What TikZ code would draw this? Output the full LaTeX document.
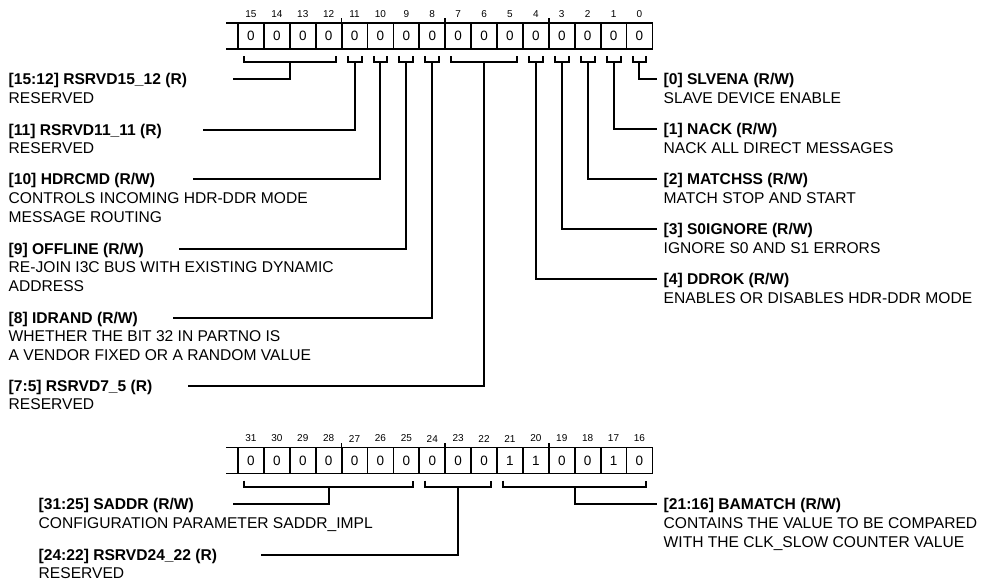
\documentclass[tikz,border=0pt]{standalone}
\usepackage{fontspec}
\setmainfont{Liberation Sans}
\usetikzlibrary{calc}
\tikzset{
  cell/.style={draw, line width=1.8pt, minimum width=25.9pt, minimum height=26pt, inner sep=0pt, outer sep=0pt, font=\fontsize{13.5}{16}\selectfont},
  bitnum/.style={inner sep=0pt, font=\fontsize{10}{12}\selectfont},
  conn/.style={line width=2pt},
  regline/.style={line width=1.8pt},
  field/.style={anchor=base west, inner sep=0pt, font=\fontsize{15.6}{18.7}\selectfont},
  ticker/.style={line width=1.5pt},
}
\newcommand{\fldA}[2]{\begin{tabular}[t]{@{}l@{}}\textbf{#1}\\#2\end{tabular}}
\newcommand{\fldB}[3]{\begin{tabular}[t]{@{}l@{}}\textbf{#1}\\#2\\#3\end{tabular}}
\begin{document}
\begin{tikzpicture}[x=1pt,y=-1pt]
\useasboundingbox (0,0) rectangle (982,582);
% ---------- top register (bits 15..0)
\foreach \i in {0,...,15}{
  \pgfmathtruncatemacro\bb{15-\i}
  \pgfmathsetmacro\xx{238+25.9*(\i+0.5)}
  \node[cell] (t\bb) at (\xx,36.3) {0};
  \node[bitnum] (tn\bb) at (\xx,14) {\bb};
}
\draw[regline] (226,23.3) -- (t15.north west);
\draw[regline] (226,49.3) -- (t15.south west);
\draw[ticker] (t12.north east) -- ++(0,-5);
\draw[ticker] (t8.north east) -- ++(0,-5);
\draw[ticker] (t4.north east) -- ++(0,-5);
% ---------- bottom register (bits 31..16)
\foreach \i/\v in {0/0,1/0,2/0,3/0,4/0,5/0,6/0,7/0,8/0,9/0,10/1,11/1,12/0,13/0,14/1,15/0}{
  \pgfmathtruncatemacro\bb{31-\i}
  \pgfmathsetmacro\xx{238+25.9*(\i+0.5)}
  \node[cell] (b\bb) at (\xx,460.5) {\v};
  \node[bitnum] (bn\bb) at (\xx,438.5) {\bb};
}
\draw[regline] (226,447.5) -- (b31.north west);
\draw[regline] (226,473.5) -- (b31.south west);
\draw[ticker] (b28.north east) -- ++(0,-5);
\draw[ticker] (b24.north east) -- ++(0,-5);
\draw[ticker] (b20.north east) -- ++(0,-5);

% ---------- field labels, left (top register)
\node[field] (f15) at (8.5,84.6) {\fldA{[15:12] RSRVD15\_12 (R)}{RESERVED}};
\node[field] (f11) at (8.5,135.1) {\fldA{[11] RSRVD11\_11 (R)}{RESERVED}};
\node[field] (f10) at (8.5,184.6) {\fldB{[10] HDRCMD (R/W)}{CONTROLS INCOMING HDR-DDR MODE}{MESSAGE ROUTING}};
\node[field] (f9) at (8.5,254.1) {\fldB{[9] OFFLINE (R/W)}{RE-JOIN I3C BUS WITH EXISTING DYNAMIC}{ADDRESS}};
\node[field] (f8) at (8.5,323.1) {\fldB{[8] IDRAND (R/W)}{WHETHER THE BIT 32 IN PARTNO IS}{A VENDOR FIXED OR A RANDOM VALUE}};
\node[field] (f7) at (8.5,391.1) {\fldA{[7:5] RSRVD7\_5 (R)}{RESERVED}};
% right
\node[field] (f0) at (663.5,84.6) {\fldA{[0] SLVENA (R/W)}{SLAVE DEVICE ENABLE}};
\node[field] (f1) at (663.5,134.6) {\fldA{[1] NACK (R/W)}{NACK ALL DIRECT MESSAGES}};
\node[field] (f2) at (663.5,184.6) {\fldA{[2] MATCHSS (R/W)}{MATCH STOP AND START}};
\node[field] (f3) at (663.5,234.6) {\fldA{[3] S0IGNORE (R/W)}{IGNORE S0 AND S1 ERRORS}};
\node[field] (f4) at (663.5,284.6) {\fldA{[4] DDROK (R/W)}{ENABLES OR DISABLES HDR-DDR MODE}};
% bottom register fields
\node[field] (f31) at (38.5,509.6) {\fldA{[31:25] SADDR (R/W)}{CONFIGURATION PARAMETER SADDR\_IMPL}};
\node[field] (f24) at (38.5,560.1) {\fldA{[24:22] RSRVD24\_22 (R)}{RESERVED}};
\node[field] (f21) at (663.5,509.6) {\fldB{[21:16] BAMATCH (R/W)}{CONTAINS THE VALUE TO BE COMPARED}{WITH THE CLK\_SLOW COUNTER VALUE}};

% ---------- connector end coordinates
\coordinate (s15) at (233,79);
\coordinate (s11) at (203,129.5);
\coordinate (s10) at (193,179);
\coordinate (s9) at (179,248.5);
\coordinate (s8) at (173,317.5);
\coordinate (s7) at (188,385.5);
\coordinate (e0) at (657,79);
\coordinate (e1) at (657,129);
\coordinate (e2) at (657,179);
\coordinate (e3) at (657,229);
\coordinate (e4) at (657,279);
\coordinate (s31) at (233,504);
\coordinate (s24) at (261,554.5);
\coordinate (e21) at (657,504);

% ---------- brackets + connectors (top)
\foreach \a/\b in {15/12,11/11,10/10,9/9,8/8,7/5,4/4,3/3,2/2,1/1,0/0}{
  \draw[conn] ($(t\a.south west)+(6,7)$) -- ++(0,6) -| ($(t\b.south east)+(-6,7)$);
}
\draw[conn] (s15) -| ($(t15.south west)!0.5!(t12.south east)+(0,13)$);
\draw[conn] (s11) -| ($(t11.south)+(0,13)$);
\draw[conn] (s10) -| ($(t10.south)+(0,13)$);
\draw[conn] (s9) -| ($(t9.south)+(0,13)$);
\draw[conn] (s8) -| ($(t8.south)+(0,13)$);
\draw[conn] (s7) -| ($(t7.south west)!0.5!(t5.south east)+(0,13)$);
\draw[conn] ($(t0.south)+(0,13)$) |- (e0);
\draw[conn] ($(t1.south)+(0,13)$) |- (e1);
\draw[conn] ($(t2.south)+(0,13)$) |- (e2);
\draw[conn] ($(t3.south)+(0,13)$) |- (e3);
\draw[conn] ($(t4.south)+(0,13)$) |- (e4);

% ---------- brackets + connectors (bottom)
\foreach \a/\b in {31/25,24/22,21/16}{
  \draw[conn] ($(b\a.south west)+(6,7)$) -- ++(0,6) -| ($(b\b.south east)+(-6,7)$);
}
\draw[conn] (s31) -| ($(b31.south west)!0.5!(b25.south east)+(0,13)$);
\draw[conn] (s24) -| ($(b24.south west)!0.5!(b22.south east)+(0,13)$);
\draw[conn] ($(b21.south west)!0.5!(b16.south east)+(0,13)$) |- (e21);
\end{tikzpicture}
\end{document}
